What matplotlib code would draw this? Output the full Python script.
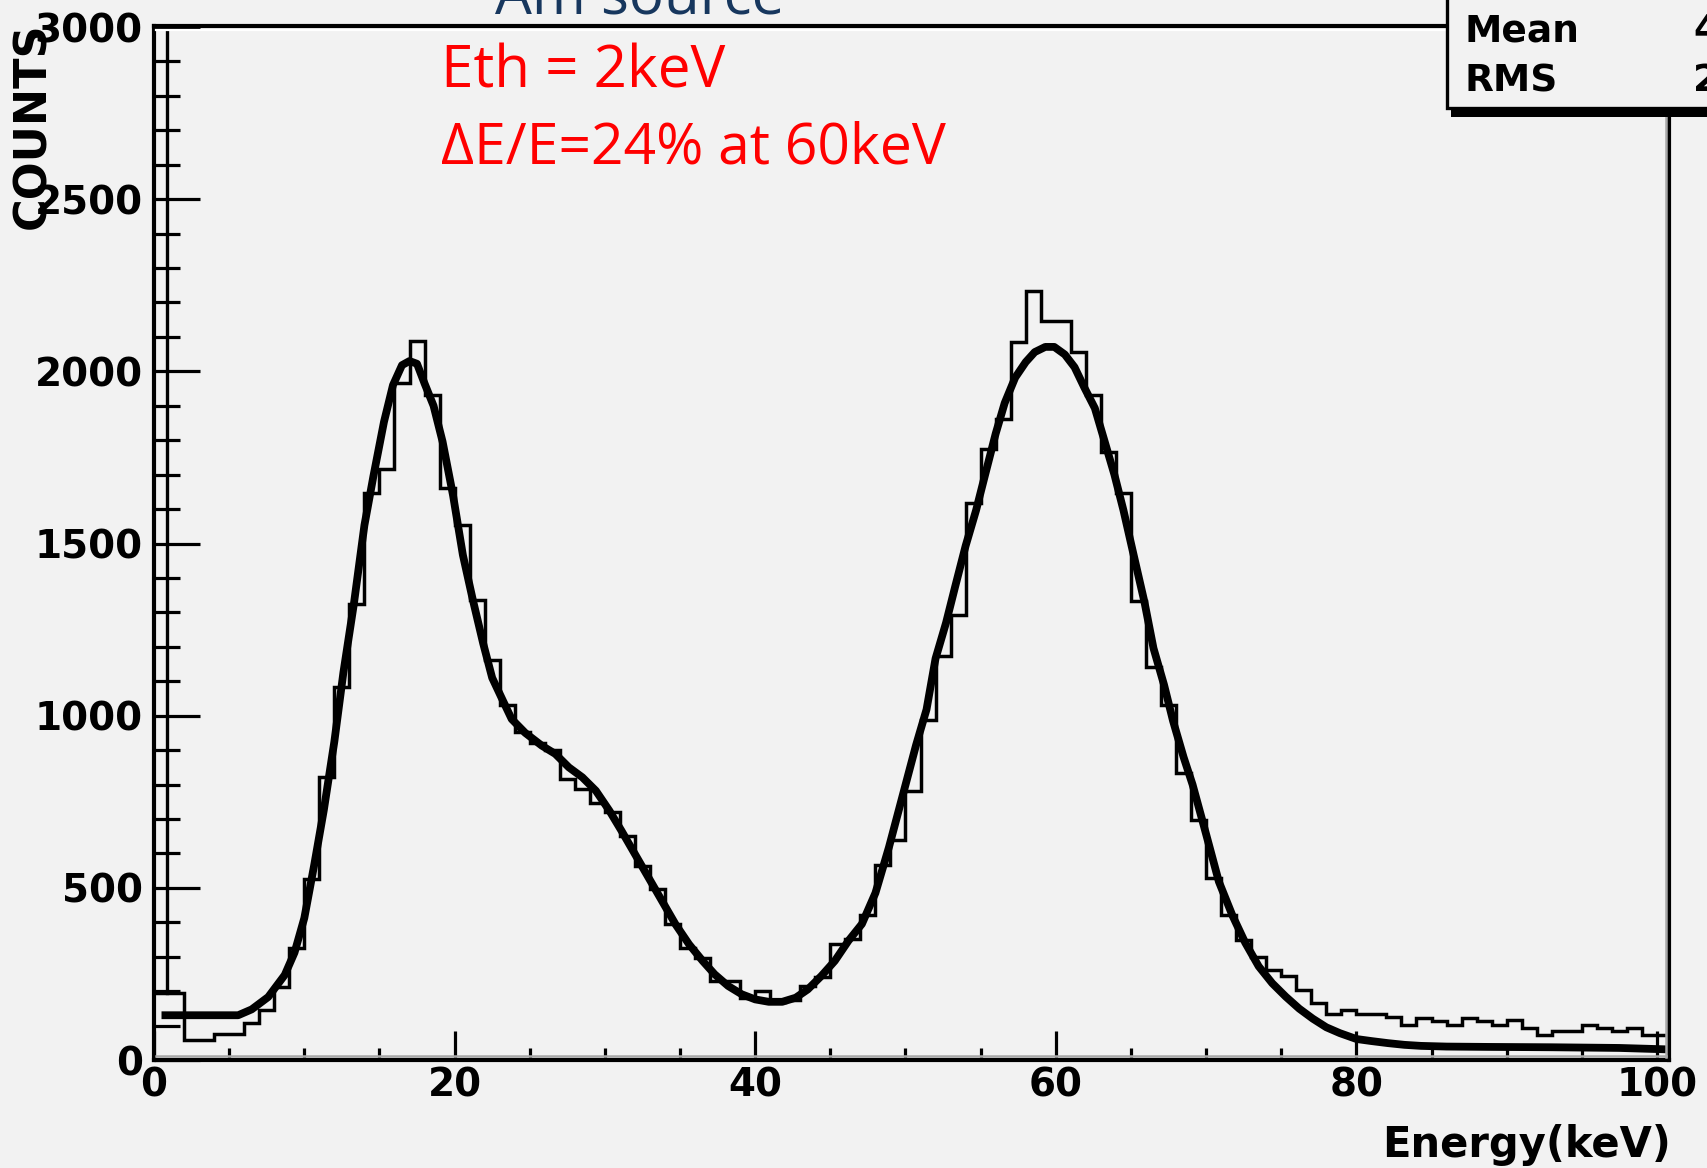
import numpy as np
import matplotlib.pyplot as plt
from matplotlib.lines import Line2D
from matplotlib.patches import Rectangle
from matplotlib.ticker import MultipleLocator

# Am-241 spectrum: histogram (1 keV bins) + fit curve
bin_edges = np.arange(0, 102, 1.0)
counts = [195, 195, 59, 59, 76, 76, 108, 146, 212, 326,
          526, 823, 1082, 1325, 1646, 1717, 1967, 2088, 1931, 1660,
          1553, 1336, 1161, 1032, 954, 920, 900, 816, 787, 745,
          719, 651, 564, 496, 394, 326, 297, 230, 230, 181,
          199, 167, 175, 215, 241, 336, 351, 422, 566, 640,
          781, 988, 1174, 1292, 1619, 1774, 1863, 2086, 2234, 2145,
          2145, 2056, 1930, 1767, 1648, 1333, 1140, 1030, 833, 697,
          530, 420, 349, 300, 262, 245, 204, 166, 133, 144,
          135, 135, 124, 103, 123, 114, 103, 122, 113, 103,
          115, 93, 74, 85, 85, 101, 93, 84, 93, 74,
          74]

fit_energy = [0.5, 2, 4, 5.6, 6.5, 7.6, 8.7, 9.35, 10.0, 10.67,
              11.3, 12.0, 12.6, 13.3, 14.0, 14.6, 15.3, 15.9, 16.5, 17.0,
              17.5, 18.0, 18.6, 19.2, 19.9, 20.55, 21.2, 21.9, 22.5, 23.2,
              23.8, 24.7, 25.8, 26.7, 27.6, 28.5, 29.4, 30.3, 31.1, 32.0,
              32.9, 33.8, 34.7, 35.6, 36.5, 37.3, 38.2, 39.1, 40.0, 40.9,
              41.8, 42.7, 43.5, 44.4, 45.3, 46.2, 47.1, 48.0, 48.9, 49.8,
              50.7, 51.4, 52.0, 52.7, 53.3, 54.0, 54.7, 55.3, 56.0, 56.6,
              57.3, 58.0, 58.6, 59.3, 59.9, 60.6, 61.25, 61.9, 62.6, 63.2,
              63.9, 64.5, 65.2, 65.9, 66.5, 67.2, 67.8, 68.5, 69.1, 70.0,
              70.85, 71.75, 72.6, 73.5, 74.4, 75.3, 76.2, 77.1, 78.0, 78.9,
              80.0, 81.0, 82.1, 83.2, 84.3, 86.0, 88.8, 93.0, 97.5, 100.6]
fit_counts = [130, 130, 130, 130, 147, 183, 247, 312, 412, 569,
              726, 925, 1125, 1325, 1553, 1696, 1853, 1960, 2018, 2030,
              2022, 1965, 1900, 1796, 1639, 1467, 1339, 1210, 1110, 1045,
              990, 950, 913, 889, 850, 821, 782, 724, 666, 598,
              530, 462, 394, 336, 288, 249, 215, 191, 176, 169,
              169, 181, 205, 244, 288, 346, 395, 485, 618, 766,
              914, 1018, 1166, 1270, 1374, 1493, 1597, 1700, 1819, 1908,
              1982, 2027, 2056, 2071, 2071, 2049, 2012, 1953, 1893, 1804,
              1700, 1597, 1463, 1330, 1196, 1090, 985, 880, 800, 656,
              518, 420, 341, 272, 223, 184, 149, 120, 95, 78,
              61, 55, 49, 44, 41, 39, 38, 37, 35, 31]

x_ticks = [0, 20, 40, 60, 80, 100]
y_ticks = [0, 500, 1000, 1500, 2000, 2500, 3000]
stat_names = ['Mean', 'RMS']
stat_values = ['4', '2']

W, H = 1707, 1168
BG = '#f2f2f2'
plt.rcParams['font.family'] = ['DejaVu Sans']
plt.rcParams['font.weight'] = 'bold'

fig = plt.figure(figsize=(W / 100, H / 100), dpi=100, facecolor=BG)
# axes box in pixels (from top-left): left 154, right 1669, top 26, bottom 1060
ax = fig.add_axes([154 / W, 1 - 1060 / H, (1669 - 154) / W, (1060 - 26) / H])
ax.set_facecolor(BG)

ax.stairs(counts, bin_edges, baseline=None, color='black', lw=2.5, zorder=3)
ax.plot(fit_energy, fit_counts, color='black', lw=5.6, solid_joinstyle='round',
        solid_capstyle='butt', zorder=4)
# inner vertical line next to the y axis
ax.plot([0.86, 0.86], [counts[0], 3003], color='black', lw=2.4, zorder=3)

ax.set_xlim(0, 100.8)
ax.set_ylim(0, 3003)
ax.set_xticks(x_ticks)
ax.set_yticks(y_ticks)
ax.xaxis.set_minor_locator(MultipleLocator(5))
ax.yaxis.set_minor_locator(MultipleLocator(100))
ax.tick_params(axis='x', which='major', direction='in', length=21, width=2.3,
               pad=5, labelsize=28)
ax.tick_params(axis='x', which='minor', direction='in', length=9, width=2.3)
ax.tick_params(axis='y', which='major', direction='in', length=33, width=2.3,
               pad=8, labelsize=28)
ax.tick_params(axis='y', which='minor', direction='in', length=19, width=2.3)
for s in ax.spines.values():
    s.set_linewidth(3.0)

# thin shading lines along the frame
def px_line(x0, y0, x1, y1, color, lw):
    fig.add_artist(Line2D([x0 / W, x1 / W], [1 - y0 / H, 1 - y1 / H],
                          transform=fig.transFigure, color=color, lw=lw))

px_line(156, 29.5, 1447, 29.5, 'white', 1.6)
px_line(156, 1056, 1666, 1056, '#a8a8a8', 1.8)
px_line(1665.5, 117, 1665.5, 1057, '#a8a8a8', 1.8)

# axis titles
fig.text(33 / W, 1 - 126 / H, 'COUNTS', rotation=90, ha='center', va='center',
         fontsize=32, fontweight='bold')
fig.text(1671 / W, 11 / H, 'Energy(keV)', ha='right', va='baseline',
         fontsize=30, fontweight='bold')

# annotations
fig.text(495 / W, 1 - 13 / H, 'Am source', color='#17375e', fontsize=42,
         family=['Open Sans', 'DejaVu Sans'], fontweight='normal', va='baseline')
fig.text(441 / W, 1 - 87 / H, 'Eth = 2keV', color='red', fontsize=42,
         family=['Open Sans', 'DejaVu Sans'], fontweight='normal', va='baseline')
fig.text(441 / W, 1 - 164 / H, 'ΔE/E=24% at 60keV', color='red', fontsize=41,
         family=['Open Sans', 'DejaVu Sans'], fontweight='normal', va='baseline')

# stats box (clipped by the figure edge)
fig.add_artist(Rectangle((1451 / W, 1 - 117 / H), 300 / W, 10 / H,
                         transform=fig.transFigure, facecolor='black',
                         edgecolor='none', zorder=5))
fig.add_artist(Rectangle((1447 / W, 1 - 108 / H), 300 / W, 130 / H,
                         transform=fig.transFigure, facecolor=BG,
                         edgecolor='black', lw=2.4, zorder=6))
for i, (name, val) in enumerate(zip(stat_names, stat_values)):
    yy = 1 - (31 + 50 * i) / H
    fig.text(1465 / W, yy, name, ha='left', va='center', fontsize=27,
             fontweight='bold', zorder=7)
    fig.text(1693 / W, yy, val, ha='left', va='center', fontsize=27,
             fontweight='bold', zorder=7)

fig.savefig('out.png', dpi=100, facecolor=BG)
